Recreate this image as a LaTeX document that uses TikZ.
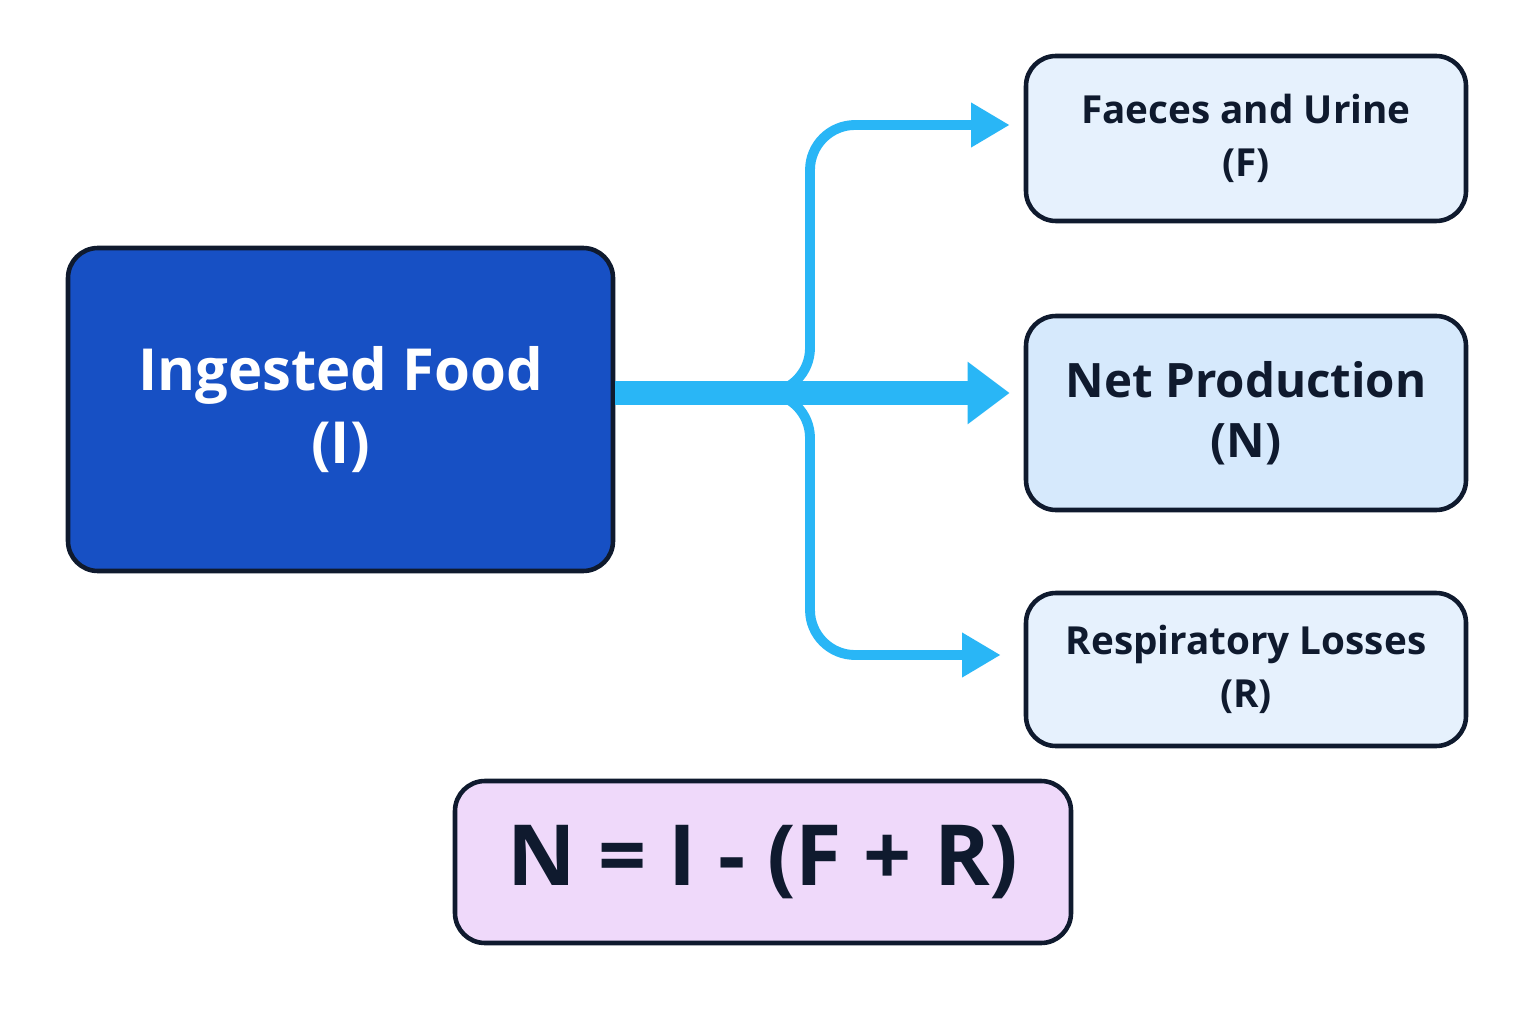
\documentclass[tikz,border=0pt]{standalone}
\usepackage{fontspec}
\setmainfont{Open Sans}
\usetikzlibrary{arrows.meta,positioning,calc}
\definecolor{darkline}{HTML}{0F1A2E}
\definecolor{ingblue}{HTML}{1750C4}
\definecolor{paleblue}{HTML}{E6F1FD}
\definecolor{midblue}{HTML}{D6E9FC}
\definecolor{lilac}{HTML}{EFD9FA}
\definecolor{flow}{HTML}{29B6F6}
\tikzset{
  box/.style={draw=darkline, line width=1.3pt, rounded corners=0.3cm, align=center, text=darkline},
  flowarrow/.style={flow, line width=2.8pt, rounded corners=0.45cm, -{Triangle[length=11pt,width=12pt]}, shorten >=0.14cm},
}
\begin{document}
\begin{tikzpicture}
\useasboundingbox[fill=white] (0,0) rectangle (15.36,10.24);

\node[box, fill=ingblue, text=white, minimum width=5.45cm, minimum height=3.23cm, font=\fontsize{16.5}{21}\selectfont\bfseries] (ing) at (3.405,6.145) {Ingested Food\\(I)};
\node[box, fill=paleblue, minimum width=4.4cm, minimum height=1.65cm, font=\fontsize{11}{15}\selectfont\bfseries] (fae) at (12.46,8.855) {Faeces and Urine\\(F)};
\node[box, fill=midblue, minimum width=4.4cm, minimum height=1.94cm, font=\fontsize{13.5}{17}\selectfont\bfseries] (net) at (12.46,6.11) {Net Production\\(N)};
\node[box, fill=paleblue, minimum width=4.4cm, minimum height=1.53cm, font=\fontsize{11}{15}\selectfont\bfseries] (res) at (12.46,3.545) {Respiratory Losses\\(R)};
\node[box, fill=lilac, minimum width=6.16cm, minimum height=1.62cm, font=\fontsize{24}{28}\selectfont\bfseries] (eq) at (7.63,1.62) {N = I - (F + R)};

% flows
\coordinate (split) at (7.6,6.31);
\draw[flow, line width=6.8pt] (ing.east |- split) -- (split);
\draw[flowarrow] (split) -| (8.1,8.99) -- ($(fae.west)+(0,0.135)$);
\draw[flowarrow] (split) -| (8.1,3.69) -- ($(res.west)+(-0.09,0.145)$);
\draw[flow, line width=6.8pt, -{Triangle[length=12pt,width=17pt]}, shorten >=0.14cm] (split) -- (net.west |- split);
\end{tikzpicture}
\end{document}
